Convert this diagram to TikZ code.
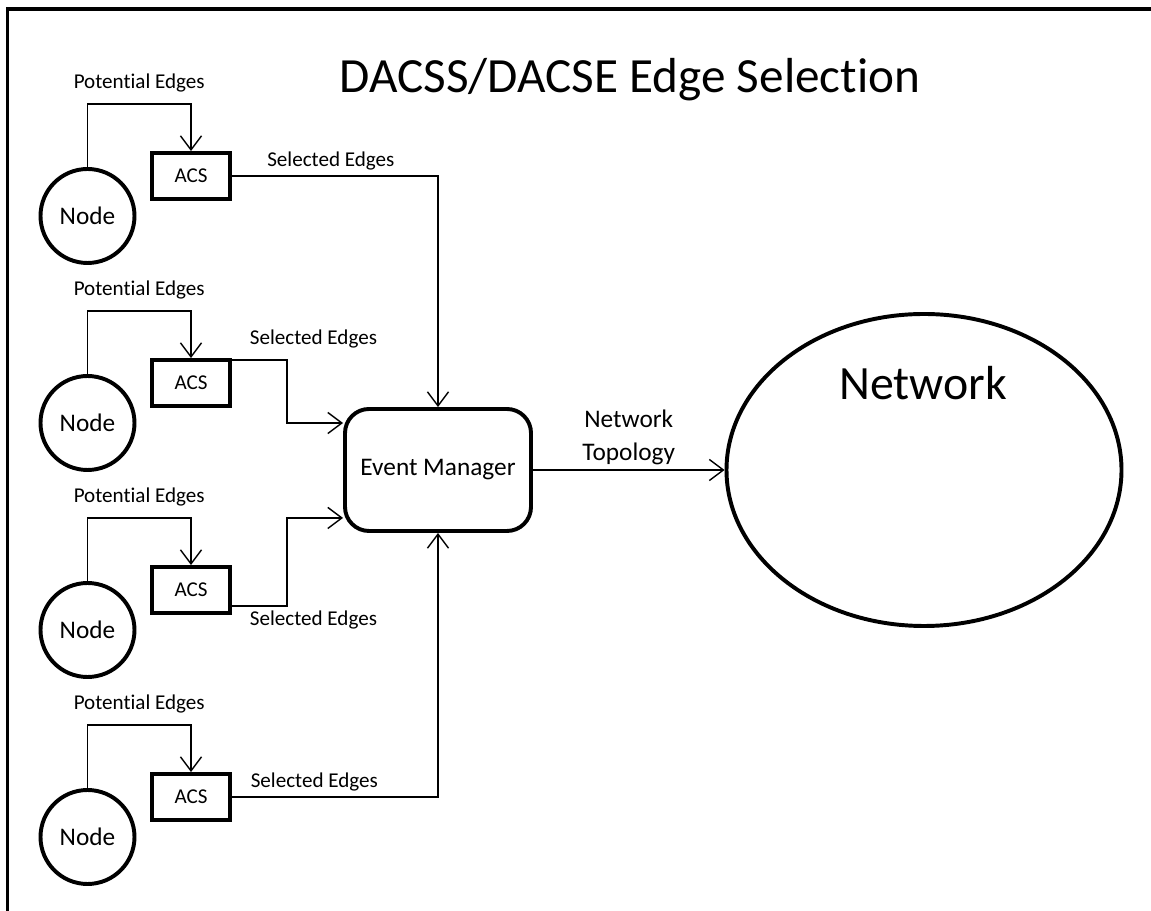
\documentclass[tikz,border=0pt]{standalone}
\usepackage{fontspec}
\setmainfont{Carlito}[Ligatures=NoCommon]
\usetikzlibrary{arrows.meta}
\usetikzlibrary{positioning}
\usetikzlibrary{shapes.geometric}

\tikzset{
    acsbox/.style={draw, line width=2.8pt, minimum width=1.95cm, minimum height=1.15cm, inner sep=0pt, font=\fontsize{15}{18}\selectfont},
    peer/.style={draw, circle, line width=2.8pt, minimum size=2.35cm, inner sep=0pt, font=\fontsize{18}{22}\selectfont},
    edgelabel/.style={font=\fontsize{15}{18}\selectfont},
    conn/.style={line width=1pt, -{Straight Barb[length=10pt,width=15pt]}}
}

\begin{document}
\begin{tikzpicture}
    \useasboundingbox (0, 0) rectangle (28.775, 22.775);
    \draw[line width=2.8pt] (0.1875, -0.2) -- (0.1875, 22.55) -- (29, 22.55);
    \node[font=\fontsize{35}{42}\selectfont] (title) at (15.75, 20.775) {DACSS/DACSE Edge Selection};

    \node[draw, rounded corners=0.6cm, line width=2.8pt, minimum width=4.65cm, minimum height=3.05cm, font=\fontsize{18}{22}\selectfont] (em) at (10.95, 11.025) {Event Manager};
    \node[draw, ellipse, line width=2.8pt, minimum width=9.875cm, minimum height=7.8cm, inner sep=0pt] (net) at (23.1, 11.025) {};
    \node[font=\fontsize{34}{40}\selectfont] (netname) at (23.075, 13.21) {Network};

    \node[acsbox] (acs1) at (4.775, 18.375) {ACS};
    \node[acsbox] (acs2) at (4.775, 13.2) {ACS};
    \node[acsbox] (acs3) at (4.775, 8.025) {ACS};
    \node[acsbox] (acs4) at (4.775, 2.85) {ACS};
    \node[peer] (peer1) at (2.1875, 17.375) {Node};
    \node[peer] (peer2) at (2.1875, 12.2) {Node};
    \node[peer] (peer3) at (2.1875, 7.025) {Node};
    \node[peer] (peer4) at (2.1875, 1.85) {Node};

    % potential edges
    \draw[conn] (peer1.north) |- node[edgelabel, pos=0.75, above=0.175cm] {Potential Edges} ([yshift=1.175cm]acs1.north) -- (acs1.north);
    \draw[conn] (peer2.north) |- node[edgelabel, pos=0.75, above=0.175cm] {Potential Edges} ([yshift=1.175cm]acs2.north) -- (acs2.north);
    \draw[conn] (peer3.north) |- node[edgelabel, pos=0.75, above=0.175cm] {Potential Edges} ([yshift=1.175cm]acs3.north) -- (acs3.north);
    \draw[conn] (peer4.north) |- node[edgelabel, pos=0.75, above=0.175cm] {Potential Edges} ([yshift=1.175cm]acs4.north) -- (acs4.north);

    % selected edges
    \draw[conn] (acs1.east) -| node[edgelabel, pos=0.24, above] {Selected Edges} (em.north);
    \draw[conn] ([yshift=-0.05cm]acs2.north east) -- node[edgelabel, above=0.175cm, xshift=1.35cm] {Selected Edges} ++(1.375, 0) |- ([yshift=-0.4cm]em.north west);
    \draw[conn] ([yshift=0.225cm]acs3.south east) -- node[edgelabel, below, xshift=1.35cm] {Selected Edges} ++(1.375, 0) |- ([yshift=0.375cm]em.south west);
    \draw[conn] (acs4.east) -| node[edgelabel, pos=0.2, above] {Selected Edges} (em.south);

    \draw[conn] (em.east) -- node[font=\fontsize{18}{23.4}\selectfont, align=center, above] {Network\\Topology} (net.west);
\end{tikzpicture}
\end{document}
